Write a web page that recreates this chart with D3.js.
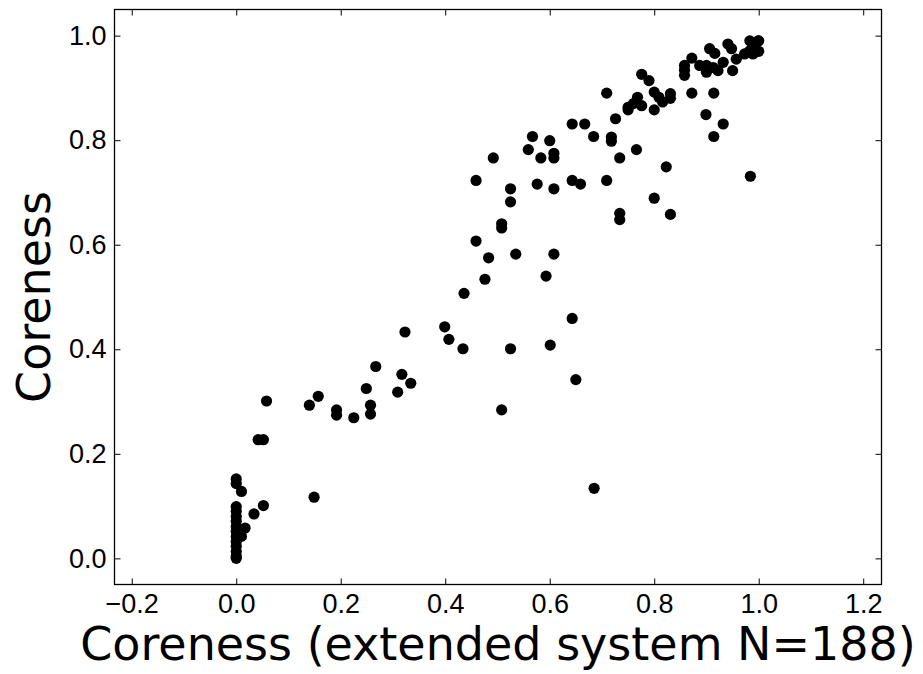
<!DOCTYPE html>
<html>
<head>
<meta charset="utf-8">
<script src="https://cdn.jsdelivr.net/npm/d3@7"></script>
<style>
  body { margin: 0; background: #fff; }
  svg { display: block; font-family: 'DejaVu Sans', sans-serif; }
</style>
</head>
<body>
<svg id="chart" width="923" height="674"></svg>
<script>
// coreness in the extended system (x) vs coreness (y)
const coreExt = [
  0, 0, 0.010, 0, 0, 0, 0, 0, 0, 0, 0, 0, 0, 0, 0, 0.017, 0.010, 0.034, 0.052,
  0.042, 0.052, 0.058, 0.140, 0.157, 0.149, 0.192, 0.192, 0.225, 0.249, 0.257, 0.257,
  0.267, 0.309, 0.317, 0.334, 0.323, 0.399, 0.407, 0.434, 0.525, 0.601, 0.650, 0.508, 0.685,
  0.459, 0.483, 0.535, 0.608, 0.476, 0.593, 0.436, 0.643,
  0.459, 0.492, 0.559, 0.567, 0.583, 0.600, 0.608, 0.608, 0.643, 0.667, 0.684, 0.718, 0.718,
  0.726, 0.734, 0.709, 0.750, 0.750, 0.760, 0.768, 0.776,
  0.709, 0.643, 0.659, 0.608, 0.576, 0.525, 0.525, 0.508, 0.508, 0.766,
  0.734, 0.734, 0.800, 0.831, 0.823, 0.984, 0.914, 0.932, 0.899, 0.872, 0.914,
  0.776, 0.790, 0.800, 0.800, 0.809, 0.816, 0.831, 0.831,
  0.858, 0.858, 0.858, 0.872, 0.887, 0.900, 0.900, 0.913, 0.922, 0.906, 0.916, 0.932,
  0.941, 0.948, 0.950, 0.957, 0.973, 0.983, 0.989, 0.999, 0.983, 0.989, 1.0, 1.0
]
const coreness = [
  0.152, 0.143, 0.128, 0.099, 0.090, 0.080, 0.071, 0.061, 0.052, 0.042, 0.032, 0.023, 0.013, 0.004, 0, 0.058, 0.042, 0.085, 0.101,
  0.227, 0.227, 0.301, 0.293, 0.310, 0.117, 0.284, 0.274, 0.269, 0.325, 0.293, 0.276,
  0.367, 0.318, 0.352, 0.335, 0.433, 0.443, 0.419, 0.401, 0.401, 0.408, 0.342, 0.284, 0.134,
  0.607, 0.575, 0.582, 0.582, 0.534, 0.540, 0.507, 0.459,
  0.723, 0.766, 0.782, 0.807, 0.766, 0.799, 0.775, 0.766, 0.831, 0.831, 0.807, 0.806, 0.798,
  0.841, 0.766, 0.890, 0.863, 0.858, 0.870, 0.882, 0.866,
  0.723, 0.723, 0.716, 0.707, 0.716, 0.707, 0.682, 0.640, 0.632, 0.782,
  0.660, 0.648, 0.689, 0.658, 0.749, 0.731, 0.807, 0.831, 0.849, 0.890, 0.890,
  0.926, 0.914, 0.892, 0.858, 0.882, 0.873, 0.889, 0.880,
  0.943, 0.934, 0.924, 0.957, 0.943, 0.943, 0.930, 0.939, 0.933, 0.975, 0.966, 0.949,
  0.984, 0.975, 0.933, 0.955, 0.965, 0.971, 0.984, 0.990, 0.990, 0.965, 0.990, 0.970
]
const xTicks = [-0.2, 0, 0.2, 0.4, 0.6, 0.8, 1.0, 1.2]
const yTicks = [0, 0.2, 0.4, 0.6, 0.8, 1.0]

const plotLeft = 114.5, plotRight = 881.5, plotTop = 9.5, plotBottom = 584.5
const tickLen = 6

const svg = d3.select('#chart')

const x = d3.scaleLinear().domain([-0.233, 1.235]).range([plotLeft, plotRight])
const y = d3.scaleLinear().domain([-0.05, 1.05]).range([plotBottom, plotTop])
const fmt = d3.format('.1f')

const points = coreExt.map((d, i) => ({ x: d, y: coreness[i] }))

svg.append('g')
  .selectAll('circle')
  .data(points)
  .enter().append('circle')
    .attr('cx', d => x(d.x))
    .attr('cy', d => y(d.y))
    .attr('r', 5.6)
    .style('fill', '#000')

function styleAxis(g, showLabels) {
  g.select('.domain').remove()
  g.selectAll('.tick line').style('stroke', '#000').style('stroke-width', 1)
  g.selectAll('.tick text')
    .style('font-size', '27px')
    .style('fill', '#000')
    .style('display', showLabels ? null : 'none')
}

svg.append('g')
    .attr('transform', `translate(0,${ plotBottom })`)
    .call(d3.axisBottom(x).tickValues(xTicks).tickFormat(fmt).tickSizeInner(-tickLen).tickSizeOuter(0).tickPadding(9))
    .call(g => styleAxis(g, true))

svg.append('g')
    .attr('transform', `translate(0,${ plotTop })`)
    .call(d3.axisTop(x).tickValues(xTicks).tickSizeInner(-tickLen).tickSizeOuter(0))
    .call(g => styleAxis(g, false))

svg.append('g')
    .attr('transform', `translate(${ plotLeft },0)`)
    .call(d3.axisLeft(y).tickValues(yTicks).tickFormat(fmt).tickSizeInner(-tickLen).tickSizeOuter(0).tickPadding(8))
    .call(g => styleAxis(g, true))

svg.append('g')
    .attr('transform', `translate(${ plotRight },0)`)
    .call(d3.axisRight(y).tickValues(yTicks).tickSizeInner(-tickLen).tickSizeOuter(0))
    .call(g => styleAxis(g, false))

// frame
svg.append('rect')
    .attr('x', plotLeft)
    .attr('y', plotTop)
    .attr('width', plotRight - plotLeft)
    .attr('height', plotBottom - plotTop)
    .style('fill', 'none')
    .style('stroke', '#000')
    .style('stroke-width', 1.3)

svg.append('text')
    .attr('x', (plotLeft + plotRight) / 2)
    .attr('y', 660)
    .attr('text-anchor', 'middle')
    .style('font-size', '46px')
    .text('Coreness (extended system N=188)')

svg.append('text')
    .attr('transform', `translate(50,${ (plotTop + plotBottom) / 2 }) rotate(-90)`)
    .attr('text-anchor', 'middle')
    .style('font-size', '46px')
    .text('Coreness')
</script>
</body>
</html>
